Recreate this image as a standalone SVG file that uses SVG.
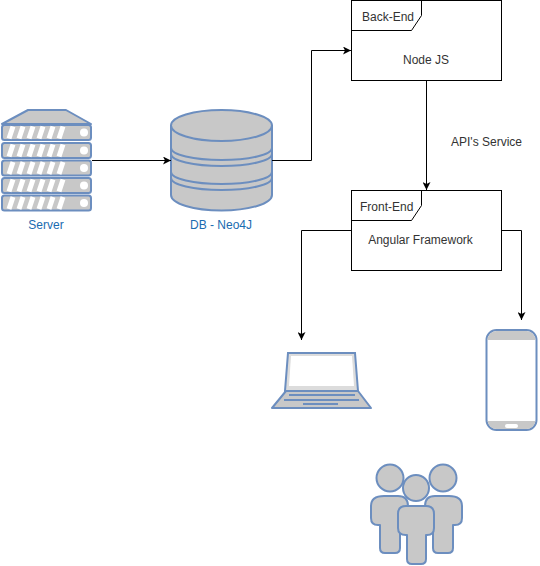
<svg xmlns="http://www.w3.org/2000/svg" width="540" height="566" viewBox="0 0 540 566">
<style>
text{font-family:"Liberation Sans",Arial,sans-serif;font-size:12px;fill:#333}
.blue{fill:#1a6bb0;text-anchor:middle}
.m{text-anchor:middle}
.s{fill:#c8c8c8;stroke:#6c8ebf;stroke-width:2;stroke-linejoin:round}
.n{fill:none;stroke:#6c8ebf;stroke-width:2}
.box{fill:#fff;stroke:#000;stroke-width:1}
.tab{fill:none;stroke:#000;stroke-width:1}
.c{fill:none;stroke:#000;stroke-width:1}
.st{fill:none;stroke:#fff;stroke-width:5}
</style>
<defs>
<marker id="a" markerWidth="9" markerHeight="8" refX="8" refY="4" orient="auto" markerUnits="userSpaceOnUse"><path d="M0 0L8 4L0 8L2 4Z" fill="#000"/></marker>
<g id="u"><rect x="2" y="0" width="89" height="15" rx="2.500" class="s"/><path d="M9 13.500L13 1.500M19 13.500L23 1.500M29 13.500L33 1.500M39 13.500L43 1.500M49 13.500L53 1.500M59 13.500L63 1.500" class="st"/><circle cx="84" cy="7.500" r="4" fill="#fff"/></g>
</defs>
<g id="server">
<path d="M2 124L28 110H66L91 124Z" class="s"/>
<use href="#u" y="125"/><use href="#u" y="143"/><use href="#u" y="160.500"/><use href="#u" y="178"/><use href="#u" y="195.500"/>
<text x="46" y="229" class="blue">Server</text>
</g>
<g id="db">
<path d="M171 125.500A50.500 15.500 0 0 1 272 125.500V195A50.500 15.500 0 0 1 171 195Z" class="s"/>
<path d="M171 125.500A50.500 15.500 0 0 0 272 125.500" class="n"/>
<path d="M171 148A50.500 12 0 0 0 272 148M171 154A50.500 12 0 0 0 272 154M171 172A50.500 12 0 0 0 272 172M171 178A50.500 12 0 0 0 272 178" class="n"/>
<text x="221" y="229" class="blue">DB - Neo4J</text>
</g>
<g id="backend">
<rect x="351.500" y="0.500" width="150" height="80" class="box"/>
<path d="M421.500 0.500V15.500L411.500 30.500H351.500" class="tab"/>
<text x="362" y="21">Back-End</text>
<text x="426" y="64" class="m">Node JS</text>
</g>
<g id="frontend">
<rect x="351.500" y="190.500" width="150" height="80" class="box"/>
<path d="M421.500 190.500V205.500L411.500 220.500H351.500" class="tab"/>
<text x="360" y="211">Front-End</text>
<text x="420.500" y="244" class="m">Angular Framework</text>
</g>
<g id="laptop">
<path d="M288 353H355L358 391H285Z" fill="#dcdcdc" stroke="#6c8ebf" stroke-width="2"/>
<path d="M291 356H352L354 386H289Z" fill="#fff"/>
<path d="M286 391H358L371 408H272Z" class="s"/>
<path d="M289 395H355M284 400H359M303 404H338" class="n"/>
</g>
<g id="phone">
<rect x="486.500" y="330" width="50" height="100" rx="10" fill="#fff" stroke="#6c8ebf" stroke-width="2"/>
<path d="M487.500 340A9 9 0 0 1 496.500 331H526.500A9 9 0 0 1 535.500 340ZM487.500 421H535.500A9 9 0 0 1 526.500 429H496.500A9 9 0 0 1 487.500 421Z" fill="#c8c8c8"/>
<rect x="505" y="424" width="13" height="4" rx="2" fill="#fff"/>
</g>
<g id="users">
<circle cx="390" cy="478" r="13.500" class="s"/>
<circle cx="443" cy="478" r="13.500" class="s"/>
<path d="M384 496H398Q408 496 408 506V528H400V548Q400 553 395 553H385Q380 553 380 548V525H378Q371 525 371 518V506Q371 496 384 496Z" class="s"/>
<path d="M435 496H449Q462 496 462 506V518Q462 525 455 525H453V548Q453 553 448 553H438Q433 553 433 548V528H425V506Q425 496 435 496Z" class="s"/>
<circle cx="416" cy="488" r="13" class="s"/>
<path d="M406 506H426Q434 506 434 514V528Q434 535 427 535H426V559Q426 564 421 564H412Q407 564 407 559V535H406Q398 535 398 528V514Q398 506 406 506Z" class="s"/>
</g>
<g id="connectors">
<path d="M92 160.500H171" class="c" marker-end="url(#a)"/>
<path d="M272 160.500H311.500V50.500H351" class="c" marker-end="url(#a)"/>
<path d="M426.500 81V190" class="c" marker-end="url(#a)"/>
<path d="M351 230.500H301.500V340" class="c" marker-end="url(#a)"/>
<path d="M502 230.500H521.500V320" class="c" marker-end="url(#a)"/>
</g>
<text x="451" y="146">API's Service</text>
</svg>
